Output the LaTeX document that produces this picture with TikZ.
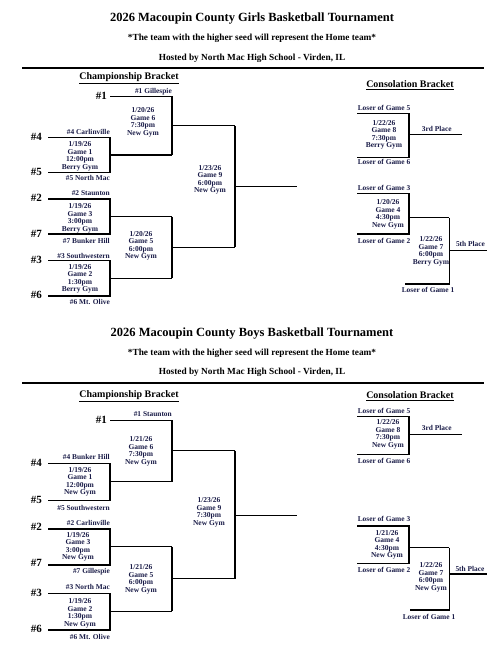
\documentclass[tikz,border=0pt]{standalone}
\usepackage{fontspec}
\setmainfont{Liberation Serif}
\definecolor{navy}{HTML}{1A1C48}
\newcommand{\brk}[7]{%
  \coordinate (#1tl) at (#2,#4);
  \coordinate (#1tr) at (#3,#4);
  \coordinate (#1br) at (#3,#5);
  \coordinate (#1bl) at (#2,#5);
  \coordinate (#1o) at (#3,#6);
  \coordinate (#1oe) at (#7,#6);
  \draw[bline] (#1tl) -- (#1tr) -- (#1br) -- (#1bl);
  \draw[bline] (#1o) -- (#1oe);}
\begin{document}
\begin{tikzpicture}[x=1pt,y=-1pt,
  bline/.style={line width=1.3pt},
  rule/.style={line width=1.4pt},
  ttl/.style={font=\bfseries\fontsize{12.5}{14}\selectfont},
  subt/.style={font=\bfseries\fontsize{9.3}{11}\selectfont},
  hdr/.style={font=\bfseries\fontsize{10}{12}\selectfont},
  seed/.style={font=\bfseries\fontsize{11}{12}\selectfont, anchor=east, inner sep=0pt},
  team/.style={font=\bfseries\fontsize{7.4}{8}\selectfont, text=navy, anchor=east, inner sep=0pt},
  lbl/.style={font=\bfseries\fontsize{7.4}{8}\selectfont, text=navy, inner sep=0pt},
  game/.style={font=\bfseries\fontsize{7.5}{7.5}\selectfont, text=navy, align=center, inner sep=0pt}]
\useasboundingbox (0,0) rectangle (502,655);
\fill[white] (0,0) rectangle (502,655);

% ================= GIRLS =================
\node[ttl] (gt) at (252,19) {2026 Macoupin County Girls Basketball Tournament};
\node[subt] (gs) at (252,38) {*The team with the higher seed will represent the Home team*};
\node[subt] (gh) at (252,58) {Hosted by North Mac High School - Virden, IL};
\coordinate (gr1) at (22,68); \coordinate (gr2) at (484,68);
\draw[rule] (gr1) -- (gr2);
\node[hdr] (gcb) at (129,78) {\underline{Championship Bracket}};
\node[hdr] (gcs) at (410,85) {\underline{Consolation Bracket}};

% round 1
\brk{Ga}{48}{110}{137.7}{172.3}{155}{172}
\brk{Gb}{48}{110}{199}{234}{216.5}{172}
\brk{Gc}{48}{110}{260.7}{296}{278.3}{172}
% game 6
\coordinate (G1a) at (110,96.7); \coordinate (G1b) at (172,96.7);
\draw[bline] (G1a) -- (G1b) -- (Gaoe);
\coordinate (G6o) at (172,125.8); \coordinate (G6oe) at (235,125.8);
\draw[bline] (G6o) -- (G6oe);
% game 5
\draw[bline] (Gboe) -- (Gcoe);
\coordinate (G5o) at (172,247.4); \coordinate (G5oe) at (235,247.4);
\draw[bline] (G5o) -- (G5oe);
% game 9
\draw[bline] (G6oe) -- (G5oe);
\coordinate (G9o) at (235,186.6); \coordinate (G9oe) at (297,186.6);
\draw[bline] (G9o) -- (G9oe);

% seeds
\node[seed] (gs1) at (107,96) {\#1};
\node[seed] (gs4) at (42,137) {\#4};
\node[seed] (gs5) at (42,172) {\#5};
\node[seed] (gs2) at (42,198) {\#2};
\node[seed] (gs7) at (42,233.5) {\#7};
\node[seed] (gs3) at (42,260) {\#3};
\node[seed] (gs6) at (42,295) {\#6};
% teams
\node[team] (gt1) at (172,91.5) {\#1 Gillespie};
\node[team] (gt4) at (110,132) {\#4 Carlinville};
\node[team] (gt5) at (110,178.3) {\#5 North Mac};
\node[team] (gt2) at (110,193.5) {\#2 Staunton};
\node[team] (gt7) at (110,240.5) {\#7 Bunker Hill};
\node[team] (gt3) at (110,255.5) {\#3 Southwestern};
\node[team] (gt6) at (110,301.7) {\#6 Mt. Olive};
% games
\node[game] (gg1) at (80,156.5) {1/19/26\\Game 1\\12:00pm\\Berry Gym};
\node[game] (gg3) at (80,218.3) {1/19/26\\Game 3\\3:00pm\\Berry Gym};
\node[game] (gg2) at (80,278.8) {1/19/26\\Game 2\\1:30pm\\Berry Gym};
\node[game] (gg6) at (143,122.5) {1/20/26\\Game 6\\7:30pm\\New Gym};
\node[game] (gg5) at (141,246) {1/20/26\\Game 5\\6:00pm\\New Gym};
\node[game] (gg9) at (210,180) {1/23/26\\Game 9\\6:00pm\\New Gym};

% consolation
\brk{Gk8}{357}{409}{113.3}{157.3}{134.5}{461.7}
\brk{Gk4}{357}{409}{193.3}{234}{217.7}{449.3}
\coordinate (Gk7b) at (449.3,284); \coordinate (Gk7bl) at (405,284);
\draw[bline] (Gk4oe) -- (Gk7b) -- (Gk7bl);
\coordinate (Gk7o) at (449.3,250.5); \coordinate (Gk7oe) at (486.7,250.5);
\draw[bline] (Gk7o) -- (Gk7oe);
\node[lbl] (gl5) at (384,108.3) {Loser of Game 5};
\node[lbl] (gl6) at (384,161.7) {Loser of Game 6};
\node[lbl] (gl3) at (384,188.3) {Loser of Game 3};
\node[lbl] (gl2) at (384,240.7) {Loser of Game 2};
\node[lbl] (gl1) at (428,290) {Loser of Game 1};
\node[lbl] (g3p) at (436.7,128.5) {3rd Place};
\node[lbl] (g5p) at (470.5,244.3) {5th Place};
\node[game] (gg8) at (384,134.7) {1/22/26\\Game 8\\7:30pm\\Berry Gym};
\node[game] (gg4) at (388,214.5) {1/20/26\\Game 4\\4:30pm\\New Gym};
\node[game] (gg7) at (431,251.3) {1/22/26\\Game 7\\6:00pm\\Berry Gym};

% ================= BOYS =================
\node[ttl] (bt) at (252,334) {2026 Macoupin County Boys Basketball Tournament};
\node[subt] (bs) at (252,353) {*The team with the higher seed will represent the Home team*};
\node[subt] (bh) at (252,372) {Hosted by North Mac High School - Virden, IL};
\coordinate (br1) at (22,383); \coordinate (br2) at (484,383);
\draw[rule] (br1) -- (br2);
\node[hdr] (bcb) at (129,396) {\underline{Championship Bracket}};
\node[hdr] (bcs) at (410,396) {\underline{Consolation Bracket}};

\brk{Ba}{48}{110}{463.3}{500.7}{481.5}{172}
\brk{Bb}{48}{110}{529}{565}{546.5}{172}
\brk{Bc}{48}{110}{593.3}{630}{611.2}{172}
\coordinate (B1a) at (110,420.7); \coordinate (B1b) at (172,420.7);
\draw[bline] (B1a) -- (B1b) -- (Baoe);
\coordinate (B6o) at (172,450.5); \coordinate (B6oe) at (235,450.5);
\draw[bline] (B6o) -- (B6oe);
\draw[bline] (Bboe) -- (Bcoe);
\coordinate (B5o) at (172,578.8); \coordinate (B5oe) at (235,578.8);
\draw[bline] (B5o) -- (B5oe);
\draw[bline] (B6oe) -- (B5oe);
\coordinate (B9o) at (235,515.5); \coordinate (B9oe) at (297,515.5);
\draw[bline] (B9o) -- (B9oe);

\node[seed] (bs1) at (107,420) {\#1};
\node[seed] (bs4) at (42,463) {\#4};
\node[seed] (bs5) at (42,499.5) {\#5};
\node[seed] (bs2) at (42,527) {\#2};
\node[seed] (bs7) at (42,563) {\#7};
\node[seed] (bs3) at (42,592.5) {\#3};
\node[seed] (bs6) at (42,628.5) {\#6};
\node[team] (bt1) at (172,414.3) {\#1 Staunton};
\node[team] (bt4) at (110,456.7) {\#4 Bunker Hill};
\node[team] (bt5) at (110,508.3) {\#5 Southwestern};
\node[team] (bt2) at (110,522.7) {\#2 Carlinville};
\node[team] (bt7) at (110,571.7) {\#7 Gillespie};
\node[team] (bt3) at (110,587.3) {\#3 North Mac};
\node[team] (bt6) at (110,636.7) {\#6 Mt. Olive};
\node[game] (bg1) at (80,481.7) {1/19/26\\Game 1\\12:00pm\\New Gym};
\node[game] (bg3) at (78,547) {1/19/26\\Game 3\\3:00pm\\New Gym};
\node[game] (bg2) at (80,613.5) {1/19/26\\Game 2\\1:30pm\\New Gym};
\node[game] (bg6) at (141,451.2) {1/21/26\\Game 6\\7:30pm\\New Gym};
\node[game] (bg5) at (141,579.5) {1/21/26\\Game 5\\6:00pm\\New Gym};
\node[game] (bg9) at (209,512.3) {1/23/26\\Game 9\\7:30pm\\New Gym};

\brk{Bk8}{357}{409}{416.7}{454.3}{434.3}{461.7}
\brk{Bk4}{357}{409}{526}{563.3}{547.7}{449.3}
\coordinate (Bk7b) at (449.3,610); \coordinate (Bk7bl) at (410,610);
\draw[bline] (Bk4oe) -- (Bk7b) -- (Bk7bl);
\coordinate (Bk7o) at (449.3,574); \coordinate (Bk7oe) at (486.7,574);
\draw[bline] (Bk7o) -- (Bk7oe);
\node[lbl] (bl5) at (384,410.7) {Loser of Game 5};
\node[lbl] (bl6) at (384,460.7) {Loser of Game 6};
\node[lbl] (bl3) at (384,519.3) {Loser of Game 3};
\node[lbl] (bl2) at (384,570) {Loser of Game 2};
\node[lbl] (bl1) at (429,617.3) {Loser of Game 1};
\node[lbl] (b3p) at (436.7,428.3) {3rd Place};
\node[lbl] (b5p) at (470,569.3) {5th Place};
\node[game] (bg8) at (388,434.2) {1/22/26\\Game 8\\7:30pm\\New Gym};
\node[game] (bg4) at (387,545) {1/21/26\\Game 4\\4:30pm\\New Gym};
\node[game] (bg7) at (431,577.5) {1/22/26\\Game 7\\6:00pm\\New Gym};
\end{tikzpicture}
\end{document}
